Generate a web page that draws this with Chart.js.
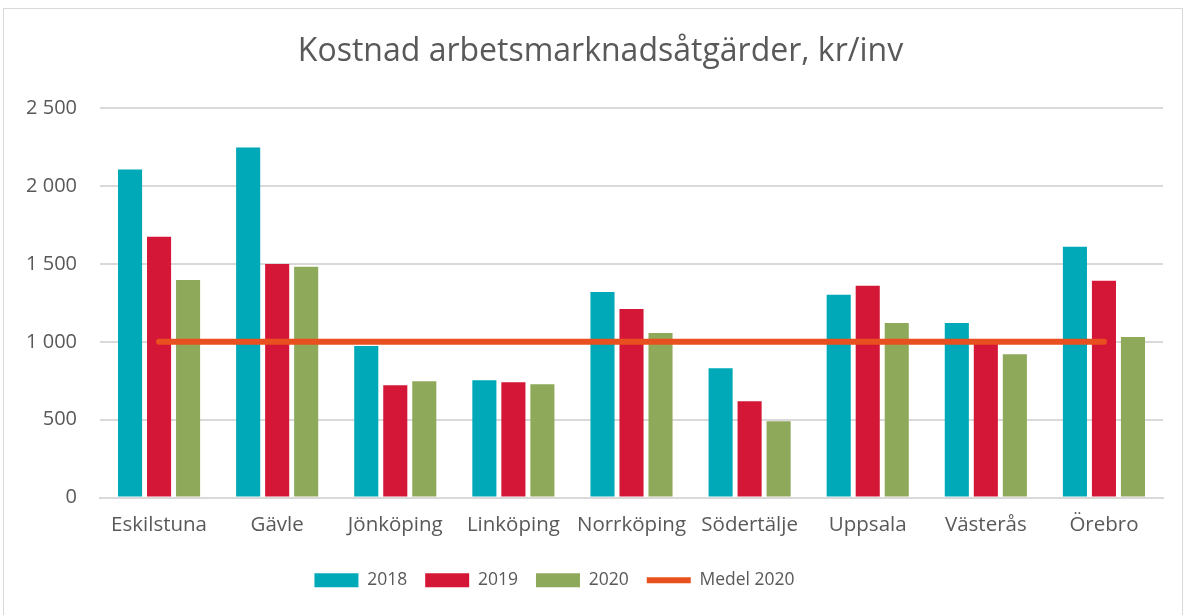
<!DOCTYPE html>
<html>
<head>
<meta charset="utf-8">
<script src="https://cdn.jsdelivr.net/npm/chart.js@4/dist/chart.umd.min.js"></script>
<style>
  html, body { margin: 0; padding: 0; background: #fff; }
  #wrap { position: absolute; left: 0; top: 0; width: 1186px; height: 615px; }
</style>
</head>
<body>
<div id="wrap"><canvas id="c" width="1186" height="615"></canvas></div>
<script>
const categories = ["Eskilstuna", "Gävle", "Jönköping", "Linköping", "Norrköping", "Södertälje", "Uppsala", "Västerås", "Örebro"];
const values2018 = [2107, 2249, 973, 754, 1321, 831, 1302, 1121, 1611];
const values2019 = [1675, 1501, 722, 741, 1211, 619, 1360, 1005, 1392];
const values2020 = [1398, 1482, 747, 728, 1057, 490, 1121, 921, 1031];
const medel2020 = [1000, 1000, 1000, 1000, 1000, 1000, 1000, 1000, 1000];
const yTicks = [0, 500, 1000, 1500, 2000, 2500];

const FONT = "'Open Sans', Lato, sans-serif";
const TXT = "#595959";

const framePlugin = {
  id: 'frame',
  afterLayout(chart) {
    const t = chart.titleBlock;
    if (t) { t.left += 19; t.right += 19; }
    const l = chart.legend;
    if (l) { l.left -= 27; l.right -= 27; }
  },
  beforeDraw(chart) {
    const ctx = chart.ctx;
    ctx.save();
    ctx.fillStyle = '#fff';
    ctx.fillRect(0, 0, chart.width, chart.height);
    ctx.strokeStyle = '#d9d9d9';
    ctx.lineWidth = 1;
    ctx.strokeRect(3.5, 8.5, 1179, 620);
    ctx.restore();
  }
};

const fmt = v => String(v).replace(/\B(?=(\d{3})+(?!\d))/g, ' ');

new Chart(document.getElementById('c'), {
  type: 'bar',
  data: {
    labels: categories,
    datasets: [
      { label: '2018', data: values2018, backgroundColor: '#00A9B7', pointStyle: 'rect', order: 2 },
      { label: '2019', data: values2019, backgroundColor: '#D51737', pointStyle: 'rect', order: 2 },
      { label: '2020', data: values2020, backgroundColor: '#8FA95A', pointStyle: 'rect', order: 2 },
      { label: 'Medel 2020', type: 'line', data: medel2020, borderColor: '#E9501F', backgroundColor: '#E9501F',
        borderWidth: 6, borderCapStyle: 'round', pointRadius: 0, pointHoverRadius: 0, pointStyle: 'line', order: 1 }
    ]
  },
  options: {
    responsive: false,
    animation: false,
    layout: { padding: { left: 0, right: 23, top: 20, bottom: 16 } },
    datasets: { bar: { categoryPercentage: 0.737, barPercentage: 0.83 } },
    plugins: {
      title: {
        display: true,
        text: 'Kostnad arbetsmarknadsåtgärder, kr/inv',
        color: TXT,
        font: { family: FONT, size: 32, weight: 'normal' },
        padding: { top: 13, bottom: 37 }
      },
      legend: {
        position: 'bottom',
        labels: {
          usePointStyle: true,
          pointStyleWidth: 44,
          boxHeight: 14,
          color: TXT,
          font: { family: FONT, size: 17.5 },
          padding: 18,
          sort: (a, b) => a.datasetIndex - b.datasetIndex
        }
      },
      tooltip: { enabled: false }
    },
    scales: {
      x: {
        grid: { display: false, drawTicks: false },
        border: { display: true, color: '#d9d9d9', width: 2 },
        ticks: { color: TXT, font: { family: FONT, size: 20.5 }, padding: 15 },
        afterFit(s) { s.height = 56; }
      },
      y: {
        min: 0, max: 2500,
        afterBuildTicks(s) { s.ticks = yTicks.map(v => ({ value: v })); },
        grid: { color: '#d9d9d9', lineWidth: 2, drawTicks: false },
        border: { display: false },
        ticks: { color: TXT, font: { family: FONT, size: 20 }, padding: 23, callback: v => fmt(v) },
        afterFit(s) { s.width = 100; }
      }
    }
  },
  plugins: [framePlugin]
});
</script>
</body>
</html>
